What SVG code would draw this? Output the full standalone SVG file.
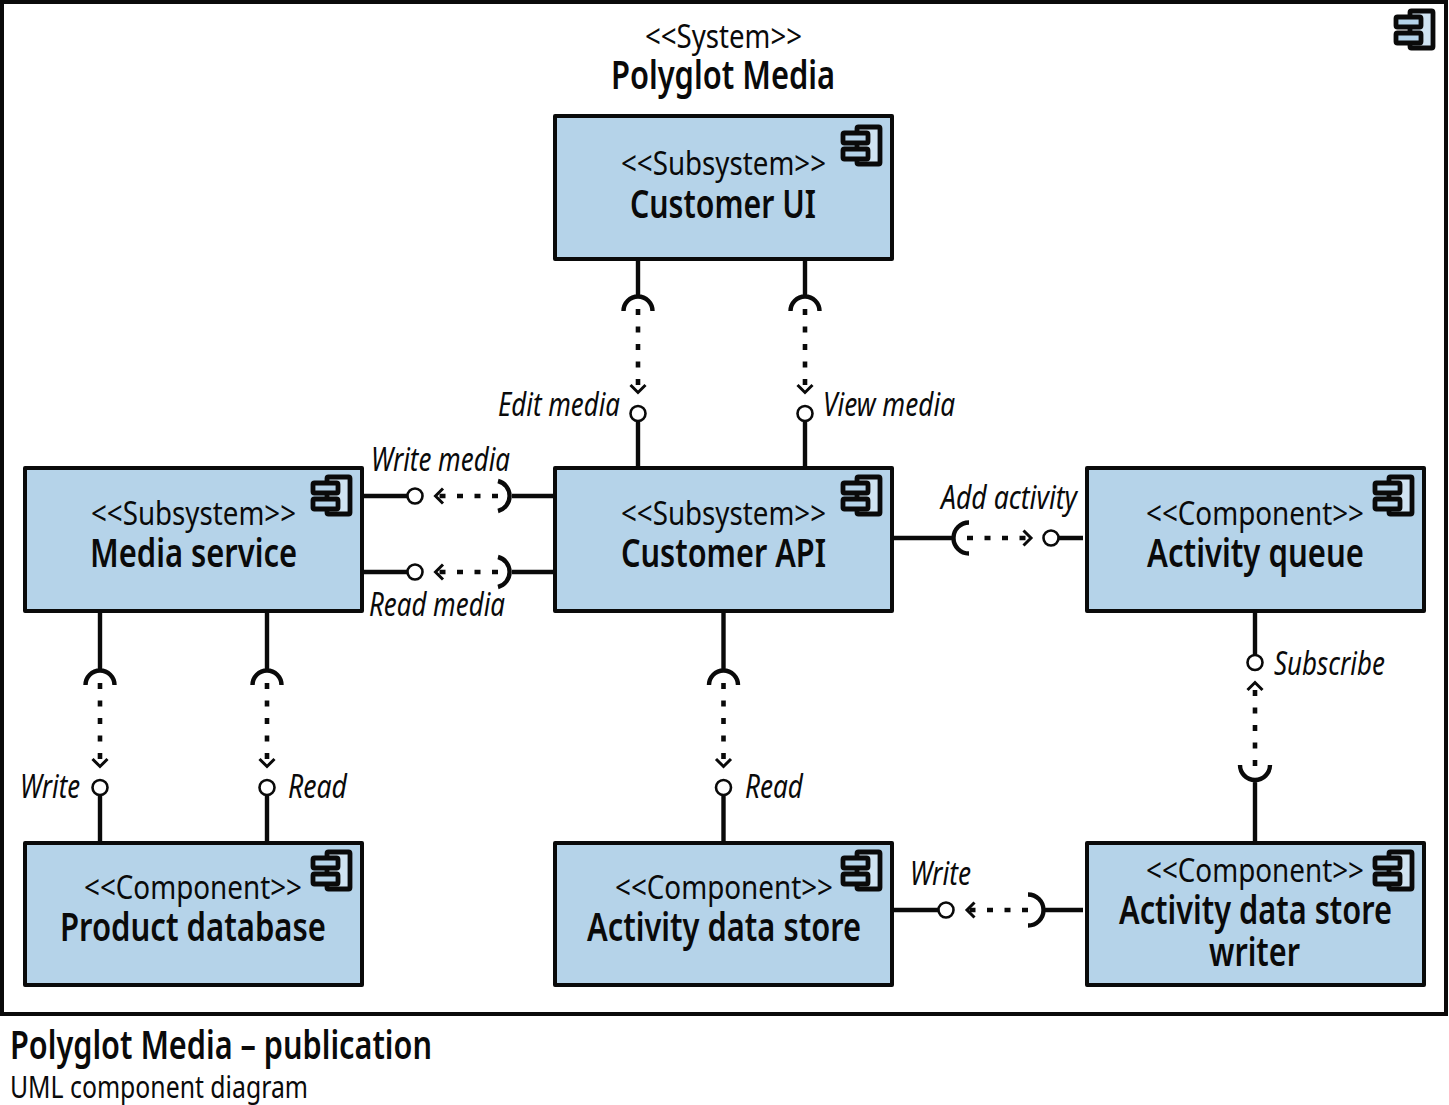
<svg xmlns="http://www.w3.org/2000/svg" width="1449" height="1105" viewBox="0 0 1449 1105">
<style>
text{font-family:"Noto Sans","Open Sans","Liberation Sans",sans-serif;fill:#0a0a0a}
.st{font-size:33px}
.nm{font-size:39px;font-weight:600}
.lb{font-size:32px;font-style:italic}
.box{fill:#b5d3e9;stroke:#0a0a0a;stroke-width:4;stroke-linejoin:round}
.ln{fill:none;stroke:#0a0a0a;stroke-width:4.4}
.dot{fill:none;stroke:#0a0a0a;stroke-width:4.6;stroke-dasharray:6 11.5;stroke-linecap:butt}
.chev{fill:none;stroke:#0a0a0a;stroke-width:3}
.lol{fill:#fff;stroke:#0a0a0a;stroke-width:2.6}
</style>
<defs>
<g id="icon">
<rect x="16" y="2" width="23" height="37" rx="1.500" fill="#d0e3f1" stroke="#0a0a0a" stroke-width="4.800"/>
<rect x="2" y="8" width="25" height="10" rx="1.500" fill="#b5d3e9" stroke="#0a0a0a" stroke-width="4.800"/>
<rect x="2" y="24" width="25" height="10" rx="1.500" fill="#b5d3e9" stroke="#0a0a0a" stroke-width="4.800"/>
</g>
</defs>
<rect width="1449" height="1105" fill="#fff"/>
<g id="system">
<rect x="2" y="2" width="1444" height="1012" fill="#fff" stroke="#0a0a0a" stroke-width="4"/>
<use href="#icon" x="1394" y="9"/>
<text class="st" x="645" y="48" textLength="157" lengthAdjust="spacingAndGlyphs">&lt;&lt;System&gt;&gt;</text>
<text class="nm" x="611" y="89" textLength="224" lengthAdjust="spacingAndGlyphs">Polyglot Media</text>
</g>
<g id="connectors">
<path class="ln" d="M638 259V297M623.500 311A14.500 14.500 0 0 1 652.500 311M638 421.500V468"/>
<path class="dot" d="M638 309V391"/><path class="chev" d="M630.500 385L638 392.500L645.500 385"/><circle class="lol" cx="638" cy="413.500" r="7.500"/>
<path class="ln" d="M805 259V297M790.500 311A14.500 14.500 0 0 1 819.500 311M805 421.500V468"/>
<path class="dot" d="M805 309V391"/><path class="chev" d="M797.500 385L805 392.500L812.500 385"/><circle class="lol" cx="805" cy="413.500" r="7.500"/>

<path class="ln" d="M362 496H408M498 481A15.500 15.500 0 0 1 498 511M512 496H553"/>
<path class="dot" d="M498 496H437"/><path class="chev" d="M443 488.500L435.500 496L443 503.500"/><circle class="lol" cx="415" cy="496" r="7.500"/>
<path class="ln" d="M362 572H408M498 557A15.500 15.500 0 0 1 498 587M512 572H553"/>
<path class="dot" d="M498 572H437"/><path class="chev" d="M443 564.500L435.500 572L443 579.500"/><circle class="lol" cx="415" cy="572" r="7.500"/>

<path class="ln" d="M892 538H955M969 522.500A15.500 15.500 0 0 0 969 553.500M1059 538H1083"/>
<path class="dot" d="M967 538H1030"/><path class="chev" d="M1023.500 530.500L1031 538L1023.500 545.500"/><circle class="lol" cx="1051" cy="538" r="7.500"/>

<path class="ln" d="M723.500 611V671M709 685A14.500 14.500 0 0 1 738 685M723.500 795.500V843"/>
<path class="dot" d="M723.500 683V765"/><path class="chev" d="M716 759L723.500 766.500L731 759"/><circle class="lol" cx="723.500" cy="787.500" r="7.500"/>

<path class="ln" d="M100 611V671M85.500 685A14.500 14.500 0 0 1 114.500 685M100 795.500V843"/>
<path class="dot" d="M100 683V765"/><path class="chev" d="M92.500 759L100 766.500L107.500 759"/><circle class="lol" cx="100" cy="787.500" r="7.500"/>
<path class="ln" d="M267 611V671M252.500 685A14.500 14.500 0 0 1 281.500 685M267 795.500V843"/>
<path class="dot" d="M267 683V765"/><path class="chev" d="M259.500 759L267 766.500L274.500 759"/><circle class="lol" cx="267" cy="787.500" r="7.500"/>

<path class="ln" d="M1255 611V655M1240 765A15 15 0 0 0 1270 765M1255 780V842"/>
<path class="dot" d="M1255 766V684"/><path class="chev" d="M1247.500 690L1255 682.500L1262.500 690"/><circle class="lol" cx="1255" cy="662.500" r="7.500"/>

<path class="ln" d="M892 910H938M1028 894.500A15.500 15.500 0 0 1 1028 925.500M1043 910H1083"/>
<path class="dot" d="M1028 910H968"/><path class="chev" d="M974.500 902.500L967 910L974.500 917.500"/><circle class="lol" cx="946" cy="910" r="7.500"/>
</g>
<g id="labels">
<text class="lb" x="498" y="416" textLength="122" lengthAdjust="spacingAndGlyphs">Edit media</text>
<text class="lb" x="823" y="416" textLength="132" lengthAdjust="spacingAndGlyphs">View media</text>
<text class="lb" x="371" y="471" textLength="139" lengthAdjust="spacingAndGlyphs">Write media</text>
<text class="lb" x="369" y="616" textLength="136" lengthAdjust="spacingAndGlyphs">Read media</text>
<text class="lb" x="941" y="509" textLength="136" lengthAdjust="spacingAndGlyphs">Add activity</text>
<text class="lb" x="1274" y="675" textLength="111" lengthAdjust="spacingAndGlyphs">Subscribe</text>
<text class="lb" x="20" y="798" textLength="60" lengthAdjust="spacingAndGlyphs">Write</text>
<text class="lb" x="288" y="798" textLength="59" lengthAdjust="spacingAndGlyphs">Read</text>
<text class="lb" x="745" y="798" textLength="58" lengthAdjust="spacingAndGlyphs">Read</text>
<text class="lb" x="910" y="885" textLength="61" lengthAdjust="spacingAndGlyphs">Write</text>
</g>
<g id="customer-ui">
<rect class="box" x="555" y="116" width="337" height="143"/>
<use href="#icon" x="841" y="125"/>
<text class="st" x="621" y="175" textLength="205" lengthAdjust="spacingAndGlyphs">&lt;&lt;Subsystem&gt;&gt;</text>
<text class="nm" x="630" y="218" textLength="186" lengthAdjust="spacingAndGlyphs">Customer UI</text>
</g>
<g id="media-service">
<rect class="box" x="25" y="468" width="337" height="143"/>
<use href="#icon" x="311" y="475"/>
<text class="st" x="91" y="525" textLength="205" lengthAdjust="spacingAndGlyphs">&lt;&lt;Subsystem&gt;&gt;</text>
<text class="nm" x="90" y="567" textLength="207" lengthAdjust="spacingAndGlyphs">Media service</text>
</g>
<g id="customer-api">
<rect class="box" x="555" y="468" width="337" height="143"/>
<use href="#icon" x="841" y="475"/>
<text class="st" x="621" y="525" textLength="205" lengthAdjust="spacingAndGlyphs">&lt;&lt;Subsystem&gt;&gt;</text>
<text class="nm" x="621" y="567" textLength="205" lengthAdjust="spacingAndGlyphs">Customer API</text>
</g>
<g id="activity-queue">
<rect class="box" x="1087" y="468" width="337" height="143"/>
<use href="#icon" x="1373" y="475"/>
<text class="st" x="1146" y="525" textLength="218" lengthAdjust="spacingAndGlyphs">&lt;&lt;Component&gt;&gt;</text>
<text class="nm" x="1147" y="567" textLength="217" lengthAdjust="spacingAndGlyphs">Activity queue</text>
</g>
<g id="product-database">
<rect class="box" x="25" y="843" width="337" height="142"/>
<use href="#icon" x="311" y="850"/>
<text class="st" x="84" y="899" textLength="218" lengthAdjust="spacingAndGlyphs">&lt;&lt;Component&gt;&gt;</text>
<text class="nm" x="60" y="941" textLength="266" lengthAdjust="spacingAndGlyphs">Product database</text>
</g>
<g id="activity-data-store">
<rect class="box" x="555" y="843" width="337" height="142"/>
<use href="#icon" x="841" y="850"/>
<text class="st" x="615" y="899" textLength="218" lengthAdjust="spacingAndGlyphs">&lt;&lt;Component&gt;&gt;</text>
<text class="nm" x="587" y="941" textLength="274" lengthAdjust="spacingAndGlyphs">Activity data store</text>
</g>
<g id="activity-data-store-writer">
<rect class="box" x="1087" y="843" width="337" height="142"/>
<use href="#icon" x="1373" y="850"/>
<text class="st" x="1146" y="882" textLength="218" lengthAdjust="spacingAndGlyphs">&lt;&lt;Component&gt;&gt;</text>
<text class="nm" x="1119" y="924" textLength="273" lengthAdjust="spacingAndGlyphs">Activity data store</text>
<text class="nm" x="1209" y="966" textLength="91" lengthAdjust="spacingAndGlyphs">writer</text>
</g>
<g id="caption">
<text class="nm" x="10" y="1059" textLength="422" lengthAdjust="spacingAndGlyphs">Polyglot Media – publication</text>
<text x="10" y="1098" font-size="30" textLength="298" lengthAdjust="spacingAndGlyphs">UML component diagram</text>
</g>
</svg>
